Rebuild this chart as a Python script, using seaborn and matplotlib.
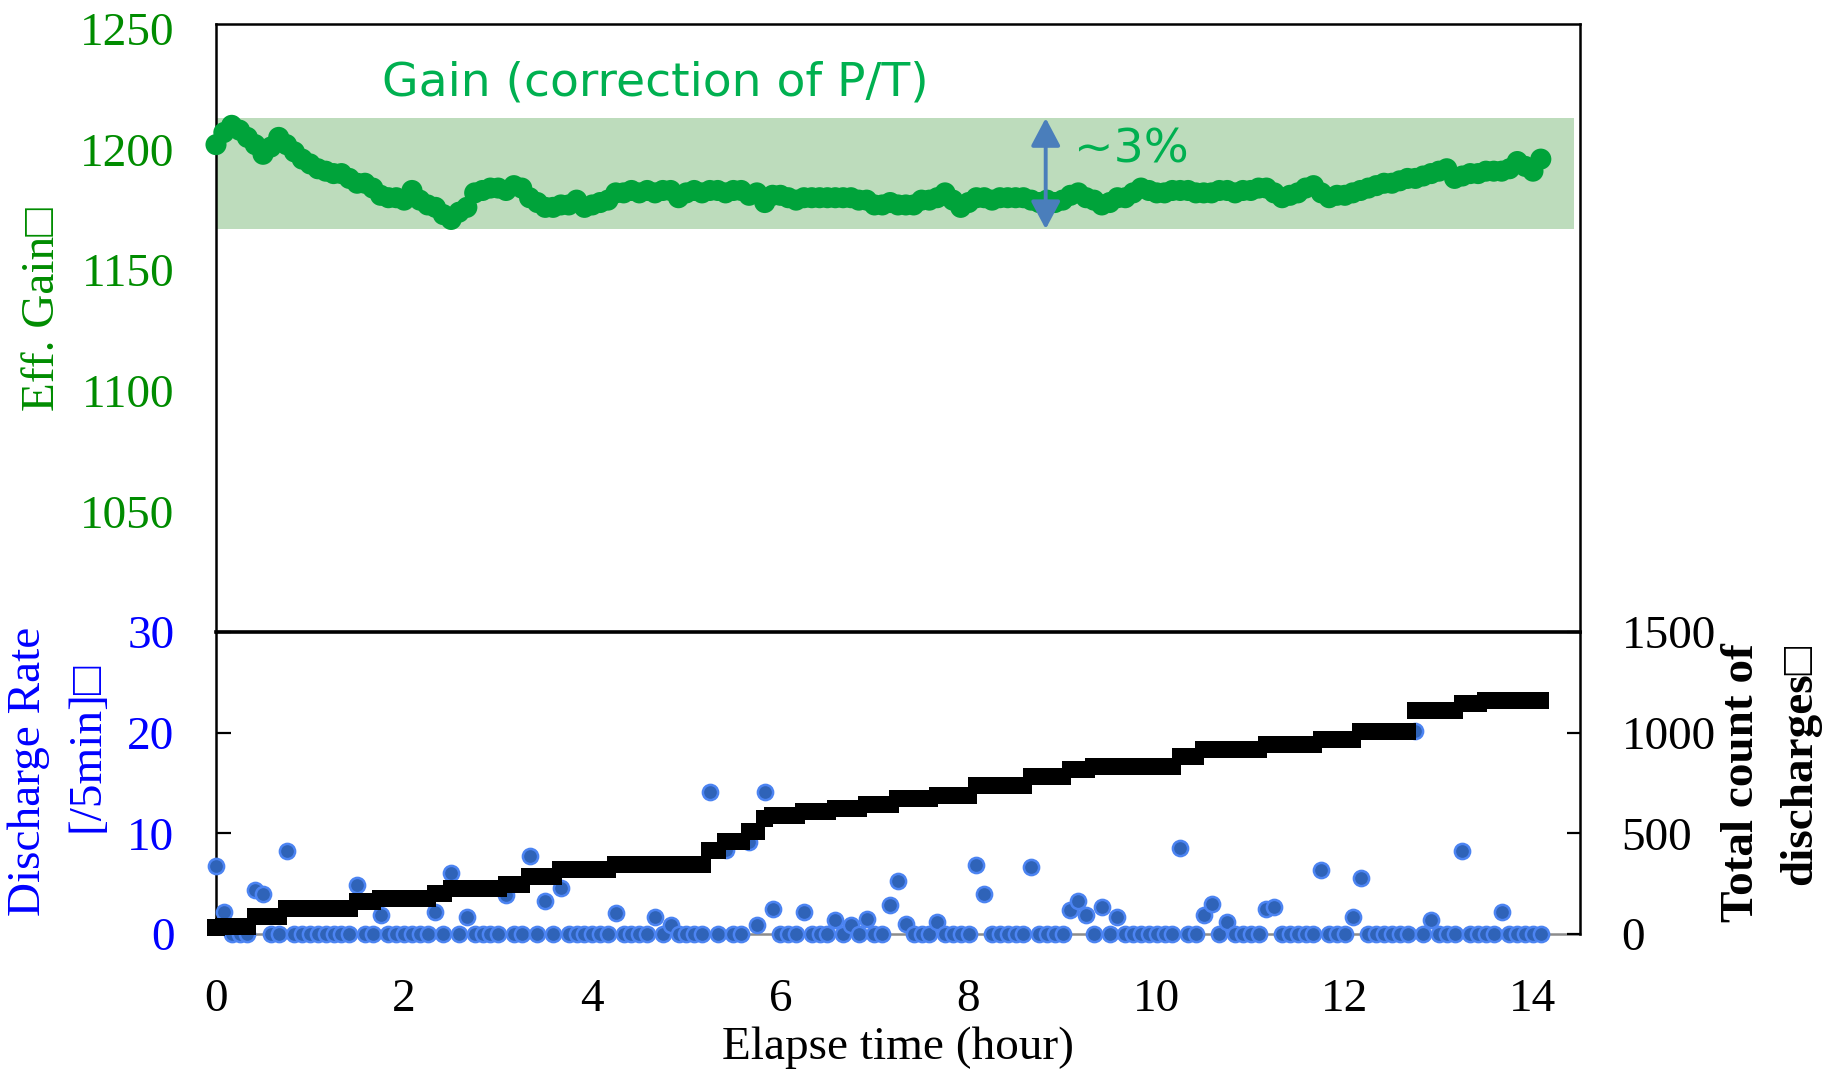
import numpy as np
import pandas as pd
import matplotlib
matplotlib.use("Agg")
import matplotlib.pyplot as plt
import seaborn as sns
from matplotlib.patches import FancyArrowPatch

# ---- data: one sample every 5 minutes over the run ----
n_bins = 170
hours = np.arange(n_bins) / 12.0

# effective gain after P/T correction
gain = [
    1202, 1207, 1210, 1208, 1205, 1202, 1198, 1201, 1205, 1202, 1199, 1196,
    1194, 1192, 1191, 1190, 1190, 1188, 1186, 1186, 1184, 1181, 1180, 1180,
    1179, 1183, 1179, 1177, 1176, 1173, 1171, 1174, 1176, 1182, 1183, 1184,
    1184, 1183, 1185, 1184, 1180, 1178, 1176, 1176, 1177, 1177, 1179, 1176,
    1177, 1178, 1179, 1182, 1182, 1183, 1182, 1183, 1182, 1183, 1183, 1180,
    1182, 1183, 1182, 1183, 1183, 1182, 1183, 1183, 1181, 1182, 1178, 1181,
    1181, 1180, 1179, 1180, 1180, 1180, 1180, 1180, 1180, 1180, 1179, 1179,
    1177, 1177, 1178, 1177, 1177, 1177, 1179, 1179, 1180, 1182, 1179, 1176,
    1178, 1180, 1180, 1179, 1180, 1180, 1180, 1180, 1179, 1178, 1179, 1178,
    1179, 1181, 1182, 1180, 1179, 1177, 1178, 1180, 1180, 1182, 1184, 1183,
    1182, 1182, 1183, 1183, 1183, 1182, 1182, 1182, 1183, 1183, 1182, 1183,
    1183, 1184, 1184, 1182, 1180, 1181, 1182, 1184, 1185, 1182, 1180, 1181,
    1181, 1182, 1183, 1184, 1185, 1186, 1186, 1187, 1188, 1188, 1189, 1190,
    1191, 1192, 1188, 1189, 1190, 1190, 1191, 1191, 1191, 1192, 1195, 1193,
    1191, 1196,
]

# discharges per 5-minute bin
rate = [
    6.8, 2.2, 0, 0, 0, 4.4, 4.0, 0, 0, 8.2, 0, 0,
    0, 0, 0, 0, 0, 0, 4.9, 0, 0, 1.9, 0, 0,
    0, 0, 0, 0, 2.2, 0, 6.1, 0, 1.7, 0, 0, 0,
    0, 3.9, 0, 0, 7.7, 0, 3.3, 0, 4.6, 0, 0, 0,
    0, 0, 0, 2.1, 0, 0, 0, 0, 1.7, 0, 0.9, 0,
    0, 0, 0, 14.1, 0, 8.3, 0, 0, 9.1, 0.9, 14.1, 2.5,
    0, 0, 0, 2.2, 0, 0, 0, 1.4, 0, 0.9, 0, 1.5,
    0, 0, 2.9, 5.3, 1.0, 0, 0, 0, 1.2, 0, 0, 0,
    0, 6.9, 4.0, 0, 0, 0, 0, 0, 6.7, 0, 0, 0,
    0, 2.4, 3.3, 1.9, 0, 2.7, 0, 1.7, 0, 0, 0, 0,
    0, 0, 0, 8.5, 0, 0, 1.9, 3.0, 0, 1.2, 0, 0,
    0, 0, 2.5, 2.7, 0, 0, 0, 0, 0, 6.4, 0, 0,
    0, 1.7, 5.6, 0, 0, 0, 0, 0, 0, 20.2, 0, 1.4,
    0, 0, 0, 8.2, 0, 0, 0, 0, 2.2, 0, 0, 0,
    0, 0,
]

# running total of discharges: level and number of 5-minute bins it holds
total_levels = [30, 36, 86, 127, 160, 177, 202, 227, 247, 285, 321, 343,
                417, 459, 508, 575, 591, 607, 624, 641, 674, 690, 740, 781,
                815, 830, 884, 914, 939, 967, 1005, 1108, 1146, 1162]
total_bins = [1, 4, 4, 9, 3, 7, 2, 7, 3, 4, 7, 12,
              2, 3, 2, 1, 4, 4, 4, 4, 5, 5, 7, 5,
              3, 11, 3, 8, 7, 5, 7, 6, 3, 8]
total = np.repeat(total_levels, total_bins)

band_low, band_high, band_end = 1167, 1213, 14.44
arrow_hour = 8.82

gain_df = pd.DataFrame({"hour": hours, "gain": gain})
rate_df = pd.DataFrame({"hour": hours, "rate": rate, "total": total})

# ---- style ----
sns.set_style("white")
plt.rcParams["font.family"] = ["Liberation Serif", "DejaVu Sans"]

GAIN_DOT = "#00A33A"
GAIN_TXT = "#00B050"
GAIN_AXIS = "#008C00"
BAND = "#BDDCBC"
RATE_BLUE = "#0000FF"
ARROW = "#4A7EBB"
FS = 34

W, H = 1829, 1069
fig = plt.figure(figsize=(W / 100, H / 100), dpi=100)


def box(left, top, right, bottom):
    return [left / W, 1 - bottom / H, (right - left) / W, (bottom - top) / H]


ax_gain = fig.add_axes(box(216, 24, 1580, 632))
ax_rate = fig.add_axes(box(216, 632, 1580, 934))
ax_rate.patch.set_visible(False)
ax_total = ax_rate.twinx()

# ---- upper panel: gain ----
ax_gain.fill_between([0, band_end], band_low, band_high, color=BAND, lw=0, zorder=1)
sns.scatterplot(data=gain_df, x="hour", y="gain", ax=ax_gain, s=230,
                color=GAIN_DOT, edgecolor="none", linewidth=0, zorder=3,
                legend=False, clip_on=False)
ax_gain.set_xlim(0, 14.5)
ax_gain.set_ylim(1000, 1252)
ax_gain.set_xticks(range(0, 15, 2))
ax_gain.set_yticks([1050, 1100, 1150, 1200, 1250])
ax_gain.tick_params(axis="x", direction="in", length=10.8, width=1.6,
                    color="black", labelbottom=False)
ax_gain.tick_params(axis="y", direction="in", length=10, width=1.6,
                    color="black", pad=30, labelsize=FS, labelcolor=GAIN_AXIS)
ax_gain.set_xlabel("")
ax_gain.set_ylabel("")
for name, sp in ax_gain.spines.items():
    sp.set_visible(True)
    sp.set_color("black")
    sp.set_linewidth(1.8)
ax_gain.spines["bottom"].set_linewidth(2.6)
ax_gain.spines["bottom"].set_zorder(5)

arrow = FancyArrowPatch((arrow_hour, band_low), (arrow_hour, band_high),
                        arrowstyle="<|-|>,head_length=0.85,head_width=0.45",
                        mutation_scale=20, color=ARROW, lw=2.8,
                        shrinkA=0, shrinkB=0, zorder=4)
ax_gain.add_patch(arrow)

fig.text(382 / W, 1 - 83 / H, "Gain (correction of P/T)", color=GAIN_TXT,
         fontsize=34, family="DejaVu Sans", ha="left", va="center")
fig.text(1074 / W, 1 - 150 / H, "~3%", color=GAIN_TXT,
         fontsize=34, family="DejaVu Sans", ha="left", va="center")

# ---- lower panel: discharge rate and running total ----
sns.scatterplot(data=rate_df, x="hour", y="rate", ax=ax_rate, s=120,
                color="#2F63B8", edgecolor="#4C84F2", linewidth=1.8,
                zorder=3, legend=False, clip_on=False)
sns.scatterplot(data=rate_df, x="hour", y="total", ax=ax_total, s=150,
                marker="s", color="black", edgecolor="none", linewidth=0,
                zorder=3, legend=False, clip_on=False)

ax_rate.set_xlim(0, 14.5)
ax_rate.set_ylim(0, 30)
ax_total.set_ylim(0, 1500)
ax_rate.set_xticks(range(0, 15, 2))
ax_rate.set_yticks([0, 10, 20, 30])
ax_total.set_yticks([0, 500, 1000, 1500])
ax_rate.tick_params(axis="x", direction="in", length=5, width=1.4,
                    color="#8C8C8C", pad=32, labelsize=FS, labelcolor="black")
ax_rate.tick_params(axis="y", direction="in", length=10.5, width=1.6,
                    color="black", pad=30, labelsize=FS, labelcolor=RATE_BLUE)
ax_total.tick_params(axis="y", direction="in", length=9.6, width=1.6,
                     color="black", pad=30, labelsize=FS, labelcolor="black")
for a in (ax_rate, ax_total):
    a.set_xlabel("")
    a.set_ylabel("")

ax_rate.spines["top"].set_visible(False)
ax_rate.spines["left"].set_visible(True)
ax_rate.spines["left"].set_color("black")
ax_rate.spines["left"].set_linewidth(1.8)
ax_rate.spines["bottom"].set_visible(True)
ax_rate.spines["bottom"].set_color("#8C8C8C")
ax_rate.spines["bottom"].set_linewidth(1.8)
ax_rate.spines["right"].set_visible(False)
for name in ("top", "left", "bottom"):
    ax_total.spines[name].set_visible(False)
ax_total.spines["right"].set_visible(True)
ax_total.spines["right"].set_color("black")
ax_total.spines["right"].set_linewidth(1.8)

# ---- axis titles ----
fig.text(43 / W, 1 - 309 / H, "Eff. Gain□", color=GAIN_AXIS, fontsize=FS,
         rotation=90, ha="center", va="center")
fig.text(29 / W, 1 - 771 / H, "Discharge Rate", color=RATE_BLUE, fontsize=FS,
         rotation=90, ha="center", va="center")
fig.text(87 / W, 1 - 747 / H, "[/5min]□", color=RATE_BLUE, fontsize=FS,
         rotation=90, ha="center", va="center")
fig.text(1742 / W, 1 - 783 / H, "Total count of", color="black", fontsize=FS,
         fontweight="bold", rotation=90, ha="center", va="center")
fig.text(1800 / W, 1 - 764 / H, "discharges□", color="black", fontsize=FS,
         fontweight="bold", rotation=90, ha="center", va="center")
fig.text(898 / W, 1 - 1048 / H, "Elapse time (hour)", color="black",
         fontsize=FS, ha="center", va="center")

fig.savefig("out.png", dpi=100)
